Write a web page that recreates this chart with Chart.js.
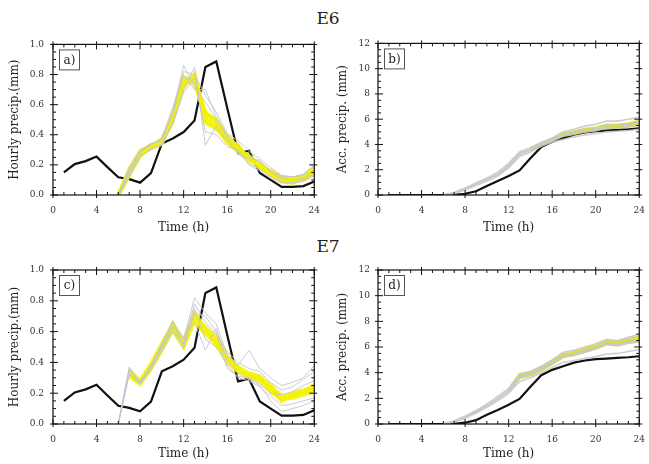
<!DOCTYPE html>
<html>
<head>
<meta charset="utf-8">
<script src="https://cdn.jsdelivr.net/npm/chart.js@4/dist/chart.umd.min.js"></script>
<style>
  html, body { margin: 0; padding: 0; background: #fff; overflow: hidden; }
  body { width: 649px; height: 464px; position: relative; }
  canvas { position: absolute; }
  .ttl { position: absolute; font-family: "DejaVu Serif", serif; font-size: 17px; color: #222; width: 60px; text-align: center; }
</style>
</head>
<body>
<div class="ttl" style="left:298px;top:8px">E6</div>
<div class="ttl" style="left:298px;top:236px">E7</div>
<canvas id="pa" width="330" height="210" style="left:0;top:30px"></canvas>
<canvas id="pb" width="330" height="210" style="left:325px;top:30px"></canvas>
<canvas id="pc" width="330" height="214" style="left:0;top:250px"></canvas>
<canvas id="pd" width="330" height="214" style="left:325px;top:250px"></canvas>
<script>
// hours of the day
const hours = [1,2,3,4,5,6,7,8,9,10,11,12,13,14,15,16,17,18,19,20,21,22,23,24];
const memberHours = [6,7,8,9,10,11,12,13,14,15,16,17,18,19,20,21,22,23,24];

// observed
const obsHourly = [0.15,0.205,0.225,0.255,0.185,0.118,0.105,0.082,0.145,0.342,0.375,0.418,0.495,0.85,0.887,0.58,0.277,0.294,0.146,0.10,0.054,0.054,0.059,0.09];
const obsAcc = [0,0,0,0,0,0,0.02,0.1,0.3,0.72,1.1,1.5,1.95,2.9,3.8,4.22,4.5,4.78,4.95,5.05,5.1,5.15,5.2,5.28];

// E6 hourly (a)
const aYellow = [
  [0.0,0.14,0.26,0.32,0.35,0.52,0.75,0.79,0.52,0.47,0.38,0.31,0.25,0.19,0.14,0.10,0.09,0.11,0.15],
  [0.0,0.16,0.28,0.33,0.36,0.50,0.78,0.76,0.55,0.49,0.36,0.33,0.23,0.21,0.15,0.11,0.10,0.12,0.17],
  [0.0,0.15,0.27,0.31,0.34,0.54,0.72,0.80,0.48,0.44,0.37,0.30,0.26,0.20,0.13,0.10,0.09,0.10,0.14],
  [0.0,0.17,0.29,0.33,0.35,0.49,0.77,0.74,0.54,0.50,0.39,0.32,0.24,0.18,0.16,0.12,0.11,0.12,0.18],
  [0.0,0.13,0.27,0.32,0.37,0.51,0.74,0.78,0.50,0.45,0.35,0.29,0.25,0.20,0.14,0.09,0.08,0.11,0.16]
];
const aGray = [
  [0.0,0.18,0.30,0.34,0.36,0.55,0.86,0.72,0.62,0.50,0.40,0.33,0.26,0.22,0.16,0.12,0.12,0.13,0.19],
  [0.0,0.12,0.25,0.31,0.33,0.48,0.70,0.85,0.33,0.46,0.35,0.28,0.21,0.17,0.12,0.09,0.08,0.10,0.14],
  [0.0,0.16,0.29,0.33,0.38,0.58,0.82,0.80,0.66,0.55,0.41,0.36,0.29,0.24,0.18,0.13,0.12,0.14,0.20],
  [0.0,0.14,0.26,0.30,0.34,0.47,0.68,0.78,0.42,0.40,0.32,0.30,0.20,0.16,0.11,0.08,0.08,0.09,0.13],
  [0.0,0.15,0.28,0.34,0.37,0.53,0.80,0.70,0.70,0.52,0.38,0.27,0.24,0.23,0.15,0.11,0.10,0.11,0.16]
];

// E6 accumulated (b)
const bYellow = [
  [null,null,null,null,null,null,null,null,3.6,4.05,4.4,4.8,4.95,5.15,5.25,5.5,5.45,5.6,5.75],
  [null,null,null,null,null,null,null,null,3.55,4.0,4.35,4.7,4.85,5.05,5.15,5.35,5.35,5.45,5.6],
  [null,null,null,null,null,null,null,null,3.65,4.1,4.45,4.85,5.0,5.2,5.3,5.55,5.55,5.65,5.85]
];
const bGray = [
  [0,0.15,0.45,0.85,1.2,1.6,2.3,3.2,3.55,4.0,4.3,4.7,4.85,5.0,5.1,5.3,5.3,5.4,5.5],
  [0,0.2,0.55,0.95,1.35,1.8,2.5,3.4,3.75,4.15,4.5,5.0,5.2,5.45,5.6,5.85,5.85,6.0,6.15],
  [0,0.12,0.4,0.75,1.1,1.5,2.15,3.05,3.4,3.85,4.2,4.4,4.6,4.75,4.85,5.0,5.05,5.1,5.2],
  [0,0.17,0.5,0.9,1.25,1.65,2.35,3.3,3.6,4.05,4.4,4.8,4.95,5.15,5.25,5.45,5.5,5.6,5.75]
];

// E7 hourly (c)
const cYellow = [
  [null,0.33,0.27,0.37,0.50,0.63,0.52,0.70,0.60,0.55,0.42,0.35,0.32,0.30,0.23,0.17,0.18,0.20,0.23],
  [null,0.35,0.28,0.39,0.52,0.65,0.54,0.72,0.62,0.57,0.44,0.37,0.33,0.31,0.25,0.18,0.19,0.21,0.25],
  [null,0.31,0.26,0.36,0.48,0.61,0.50,0.67,0.58,0.53,0.40,0.34,0.31,0.28,0.21,0.16,0.17,0.19,0.21],
  [null,0.34,0.27,0.38,0.51,0.62,0.53,0.69,0.63,0.51,0.43,0.36,0.30,0.29,0.24,0.15,0.20,0.22,0.24]
];
const cGray = [
  [0.0,0.37,0.27,0.38,0.52,0.67,0.55,0.82,0.72,0.65,0.45,0.38,0.48,0.36,0.30,0.25,0.27,0.30,0.38],
  [0.0,0.32,0.26,0.35,0.47,0.60,0.49,0.75,0.55,0.50,0.38,0.30,0.28,0.24,0.18,0.12,0.13,0.15,0.17],
  [0.0,0.35,0.28,0.36,0.50,0.64,0.56,0.66,0.48,0.62,0.41,0.33,0.29,0.25,0.15,0.08,0.10,0.12,0.15],
  [0.0,0.33,0.27,0.37,0.49,0.62,0.52,0.78,0.66,0.58,0.47,0.40,0.36,0.34,0.27,0.22,0.24,0.29,0.34],
  [0.0,0.36,0.26,0.38,0.51,0.66,0.51,0.72,0.70,0.60,0.36,0.31,0.30,0.26,0.20,0.19,0.21,0.25,0.28]
];

// E7 accumulated (d)
const dYellow = [
  [null,null,null,null,null,null,2.6,3.75,3.9,4.3,4.8,5.35,5.5,5.75,6.0,6.35,6.25,6.45,6.6],
  [null,null,null,null,null,null,2.55,3.6,3.8,4.2,4.7,5.25,5.4,5.65,5.9,6.25,6.15,6.35,6.45],
  [null,null,null,null,null,null,2.65,3.85,4.0,4.4,4.9,5.45,5.6,5.85,6.1,6.45,6.4,6.6,6.8]
];
const dGray = [
  [0,0.2,0.55,0.95,1.45,2.0,2.6,3.7,3.9,4.3,4.8,5.3,5.45,5.7,5.95,6.3,6.2,6.4,6.55],
  [0,0.15,0.45,0.85,1.3,1.8,2.4,3.3,3.6,4.0,4.4,4.8,4.95,5.1,5.25,5.45,5.5,5.65,5.8],
  [0,0.25,0.6,1.05,1.55,2.15,2.75,3.9,4.1,4.5,5.0,5.6,5.75,6.0,6.25,6.6,6.5,6.75,7.0],
  [0,0.18,0.5,0.9,1.4,1.95,2.55,3.6,3.85,4.25,4.7,5.2,5.35,5.6,5.85,6.2,6.1,6.3,6.45]
];

const FONT = '"DejaVu Serif", serif';

const pts = (hrs, vals) => hrs.map((h, i) => ({ x: h, y: vals[i] })).filter(p => p.y != null);

// box, NCL-style tick marks and the panel tag
const framePlugin = {
  id: 'frame',
  afterDraw(chart, args, o) {
    const { ctx, chartArea: { left, right, top, bottom }, scales: { x, y } } = chart;
    ctx.save();
    ctx.strokeStyle = '#111';
    ctx.lineWidth = 1.2;
    ctx.strokeRect(left, top, right - left, bottom - top);
    ctx.lineWidth = 1;
    for (let h = 0; h <= 24; h++) {
      const px = x.getPixelForValue(h);
      const major = h % 4 === 0;
      const inL = major ? 5 : 3, outL = major ? 3 : 0;
      ctx.beginPath();
      ctx.moveTo(px, bottom + outL); ctx.lineTo(px, bottom - inL);
      ctx.moveTo(px, top - outL); ctx.lineTo(px, top + inL);
      ctx.stroke();
    }
    const n = Math.round((o.max - o.min) / o.minor);
    for (let i = 0; i <= n; i++) {
      const v = o.min + i * o.minor;
      const py = y.getPixelForValue(v);
      const major = i % o.per === 0;
      const inL = major ? 5 : 3, outL = major ? 3 : 0;
      ctx.beginPath();
      ctx.moveTo(left - outL, py); ctx.lineTo(left + inL, py);
      ctx.moveTo(right + outL, py); ctx.lineTo(right - inL, py);
      ctx.stroke();
    }
    // panel tag
    ctx.strokeStyle = '#555';
    ctx.lineWidth = 1;
    ctx.strokeRect(left + 6.5, top + 5.5, 20, 20);
    ctx.fillStyle = '#222';
    ctx.font = '12px ' + FONT;
    ctx.textAlign = 'center';
    ctx.textBaseline = 'middle';
    ctx.fillText(o.tag, left + 16.5, top + 16);
    ctx.restore();
  }
};

function makePanel(id, cfg) {
  const datasets = [];
  cfg.gray.forEach(g => datasets.push({
    data: pts(memberHours, g), borderColor: cfg.grayColor, borderWidth: cfg.grayWidth,
    pointRadius: 0, tension: 0
  }));
  cfg.yellow.forEach(g => datasets.push({
    data: pts(memberHours, g), borderColor: cfg.yellowColor, borderWidth: cfg.yellowWidth,
    pointRadius: 0, tension: 0
  }));
  datasets.push({
    data: pts(hours, cfg.obs), borderColor: '#111', borderWidth: 2.2,
    pointRadius: 0, tension: 0
  });

  new Chart(document.getElementById(id), {
    type: 'line',
    data: { datasets },
    options: {
      responsive: false,
      animation: false,
      devicePixelRatio: 1,
      layout: { padding: { top: cfg.padTop, right: cfg.padRight, left: 0, bottom: 0 } },
      plugins: {
        legend: { display: false },
        tooltip: { enabled: false },
        frame: { tag: cfg.tag, min: 0, max: cfg.yMax, minor: cfg.yMinor, per: cfg.yPer }
      },
      scales: {
        x: {
          type: 'linear', min: 0, max: 24,
          grid: { display: false, drawTicks: false },
          border: { display: false },
          ticks: { stepSize: 4, padding: 10, color: '#333', font: { family: FONT, size: 9 } },
          title: { display: true, text: 'Time (h)', color: '#222', font: { family: FONT, size: 12 }, padding: { top: 0, bottom: cfg.xTitlePad } },
          afterFit(s) { s.height = cfg.xHeight; }
        },
        y: {
          min: 0, max: cfg.yMax,
          grid: { display: false, drawTicks: false },
          border: { display: false },
          ticks: { stepSize: cfg.yStep, padding: cfg.yTickPad, color: '#333', font: { family: FONT, size: 9 },
                   callback: v => cfg.yDec ? v.toFixed(1) : String(v) },
          title: { display: true, text: cfg.yTitle, color: '#222', font: { family: FONT, size: 12 }, padding: { top: cfg.yTitlePad, bottom: 0 } },
          afterFit(s) { s.width = 53; }
        }
      }
    },
    plugins: [framePlugin]
  });
}

const hourlyBase = { yMax: 1, yStep: 0.2, yMinor: 0.05, yPer: 4, yDec: true, yTitle: 'Hourly precip.(mm)',
  yTickPad: 9, yTitlePad: 8, padRight: 9, obs: obsHourly, grayColor: 'rgba(196,196,212,0.9)', grayWidth: 1,
  yellowColor: 'rgba(242,242,0,0.8)', yellowWidth: 4 };
const accBase = { yMax: 12, yStep: 2, yMinor: 0.5, yPer: 4, yDec: false, yTitle: 'Acc. precip. (mm)',
  yTickPad: 8, yTitlePad: 11, padRight: 11, obs: obsAcc, grayColor: 'rgba(200,200,205,0.9)', grayWidth: 1.6,
  yellowColor: 'rgba(214,222,50,0.85)', yellowWidth: 3 };
const topRow = { padTop: 13, xHeight: 45, xTitlePad: 5 };
const botRow = { padTop: 20, xHeight: 40, xTitlePad: 3 };

makePanel('pa', { ...hourlyBase, ...topRow, tag: 'a)', gray: aGray, yellow: aYellow });
makePanel('pb', { ...accBase, ...topRow, tag: 'b)', gray: bGray, yellow: bYellow });
makePanel('pc', { ...hourlyBase, ...botRow, tag: 'c)', gray: cGray, yellow: cYellow });
makePanel('pd', { ...accBase, ...botRow, tag: 'd)', gray: dGray, yellow: dYellow });
</script>
</body>
</html>
